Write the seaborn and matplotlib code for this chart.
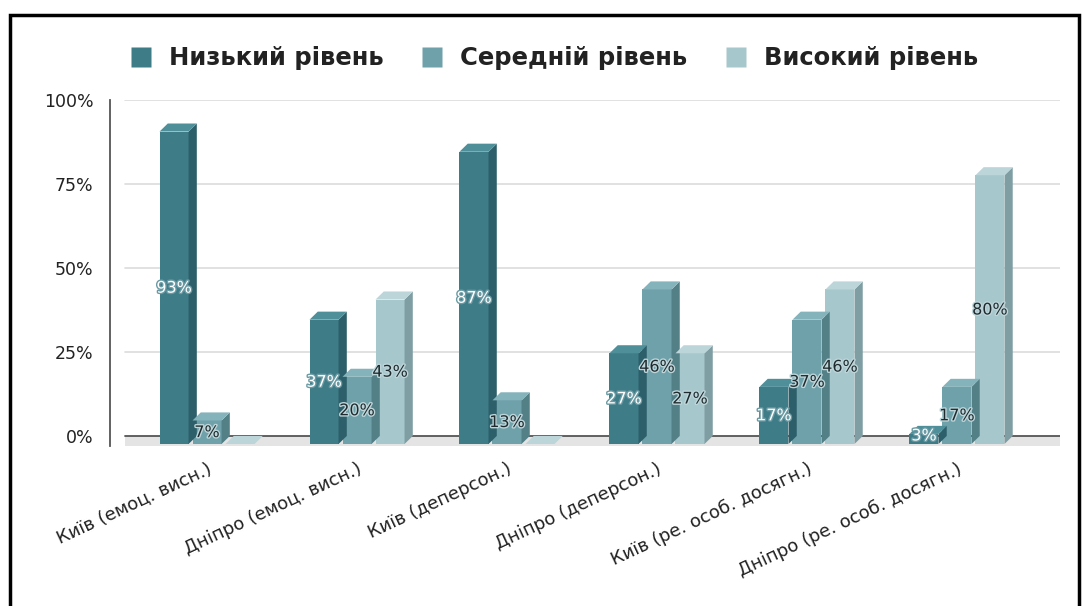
import matplotlib
matplotlib.use("Agg")
import matplotlib.pyplot as plt
import matplotlib.patheffects as pe
import matplotlib.transforms as mtransforms
from matplotlib.patches import Polygon, Rectangle
from matplotlib.lines import Line2D
import seaborn as sns
import pandas as pd

categories = ["Київ (емоц. висн.)", "Дніпро (емоц. висн.)", "Київ (деперсон.)",
              "Дніпро (деперсон.)", "Київ (ре. особ. досягн.)", "Дніпро (ре. особ. досягн.)"]
series_names = ["Низький рівень", "Середній рівень", "Високий рівень"]
low = [93, 37, 87, 27, 17, 3]
mid = [7, 20, 13, 46, 37, 17]
high = [0, 43, 0, 27, 46, 80]
y_ticks = [0, 25, 50, 75, 100]
y_tick_labels = ["0%", "25%", "50%", "75%", "100%"]

front = ["#3e7c88", "#6ea1aa", "#a6c7cc"]
side = ["#2c5f69", "#537f87", "#7f9ea3"]
top = ["#4f8f9a", "#85b3bb", "#bcd5d9"]
label_colors = ["white", "#1e2a2d", "#1e2a2d"]

sns.set_theme(style="white")
plt.rcParams["font.family"] = ["DejaVu Sans"]

df = pd.DataFrame({
    "cat": categories * 3,
    "level": [series_names[0]] * 6 + [series_names[1]] * 6 + [series_names[2]] * 6,
    "val": low + mid + high,
})

fig = plt.figure(figsize=(10.82, 6.06), dpi=100)
ax = fig.add_axes([110 / 1082, 0.264, 950 / 1082, 0.571])

sns.barplot(data=df, x="cat", y="val", hue="level", order=categories, hue_order=series_names,
            palette=front, width=0.66, gap=0.12, ax=ax, legend=False, zorder=3,
            linewidth=0)

ax.set_ylim(-3, 100)
ax.set_xlim(-0.647, 5.687)

# floor and grid
gx = 0.016
ax.axhspan(-3, 0, xmin=gx, xmax=1.0, color="#e4e4e4", zorder=1, lw=0)
for yv in y_ticks[1:]:
    ax.axhline(yv, xmin=gx, xmax=1.0, color="#dcdcdc", lw=1.2, zorder=0)
ax.axhline(0, xmin=gx, xmax=1.0, color="#555555", lw=1.3, zorder=2)

dx, dy = 0.055, 2.4
bars = [p for p in ax.patches if isinstance(p, Rectangle) and p.get_width() < 1]
vals = [low, mid, high]
for i, p in enumerate(bars[:18]):
    s = i // 6
    k = i % 6
    x0, w, h = p.get_x(), p.get_width(), p.get_height()
    # front face sits slightly in front of the floor line (pseudo 3D)
    p.set_y(-dy)
    p.set_facecolor(front[s])
    yb, yt = -dy, h - dy
    sideface = Polygon([(x0 + w, yb), (x0 + w + dx, yb + dy), (x0 + w + dx, yt + dy), (x0 + w, yt)],
                       closed=True, facecolor=side[s], edgecolor="none", zorder=3)
    topface = Polygon([(x0, yt), (x0 + dx, yt + dy), (x0 + w + dx, yt + dy), (x0 + w, yt)],
                      closed=True, facecolor=top[s], edgecolor="none", zorder=3)
    ax.add_patch(sideface)
    ax.add_patch(topface)
    v = vals[s][k]
    if v > 0:
        txt = ax.text(x0 + w / 2, max(v / 2 - 2.5, 0), f"{v}%", ha="center", va="center",
                      fontsize=11.5, color=label_colors[s], zorder=5)
        if s == 0:
            txt.set_path_effects([pe.withStroke(linewidth=2, foreground="#6a9aa3")])
        else:
            txt.set_path_effects([pe.withStroke(linewidth=2, foreground="#bdd5d9")])

ax.set_yticks(y_ticks)
ax.set_yticklabels(y_tick_labels, fontsize=12.5, color="#222222")
ax.set_xticks(range(len(categories)))
ax.set_xticklabels(categories, rotation=25, ha="right", rotation_mode="anchor",
                   fontsize=13, color="#222222")
shift = mtransforms.ScaledTranslation(6 / 100, 0, fig.dpi_scale_trans)
for lbl in ax.get_xticklabels():
    lbl.set_transform(lbl.get_transform() + shift)
ax.tick_params(axis="x", length=0, pad=10)
ax.tick_params(axis="y", length=0, pad=12)
ax.set_xlabel("")
ax.set_ylabel("")
for sp in ["top", "right", "bottom"]:
    ax.spines[sp].set_visible(False)
ax.spines["left"].set_color("#555555")
ax.spines["left"].set_linewidth(1.3)

handles = [Line2D([0], [0], marker="s", linestyle="none", markersize=14,
                  markerfacecolor=front[i], markeredgecolor="none") for i in range(3)]
fig.legend(handles, series_names, loc="center left", bbox_to_anchor=(0.099, 0.904),
           ncol=3, frameon=False, prop={"weight": "bold", "size": 17.5},
           handletextpad=0.65, columnspacing=1.5, handlelength=1.0,
           labelcolor="#222222")

fig.patches.append(Rectangle((10 / 1082, -0.01), 1069 / 1082, 1.01 - 15 / 606,
                             transform=fig.transFigure, fill=False, edgecolor="black", lw=2.5))

fig.savefig("out.png", dpi=100)
